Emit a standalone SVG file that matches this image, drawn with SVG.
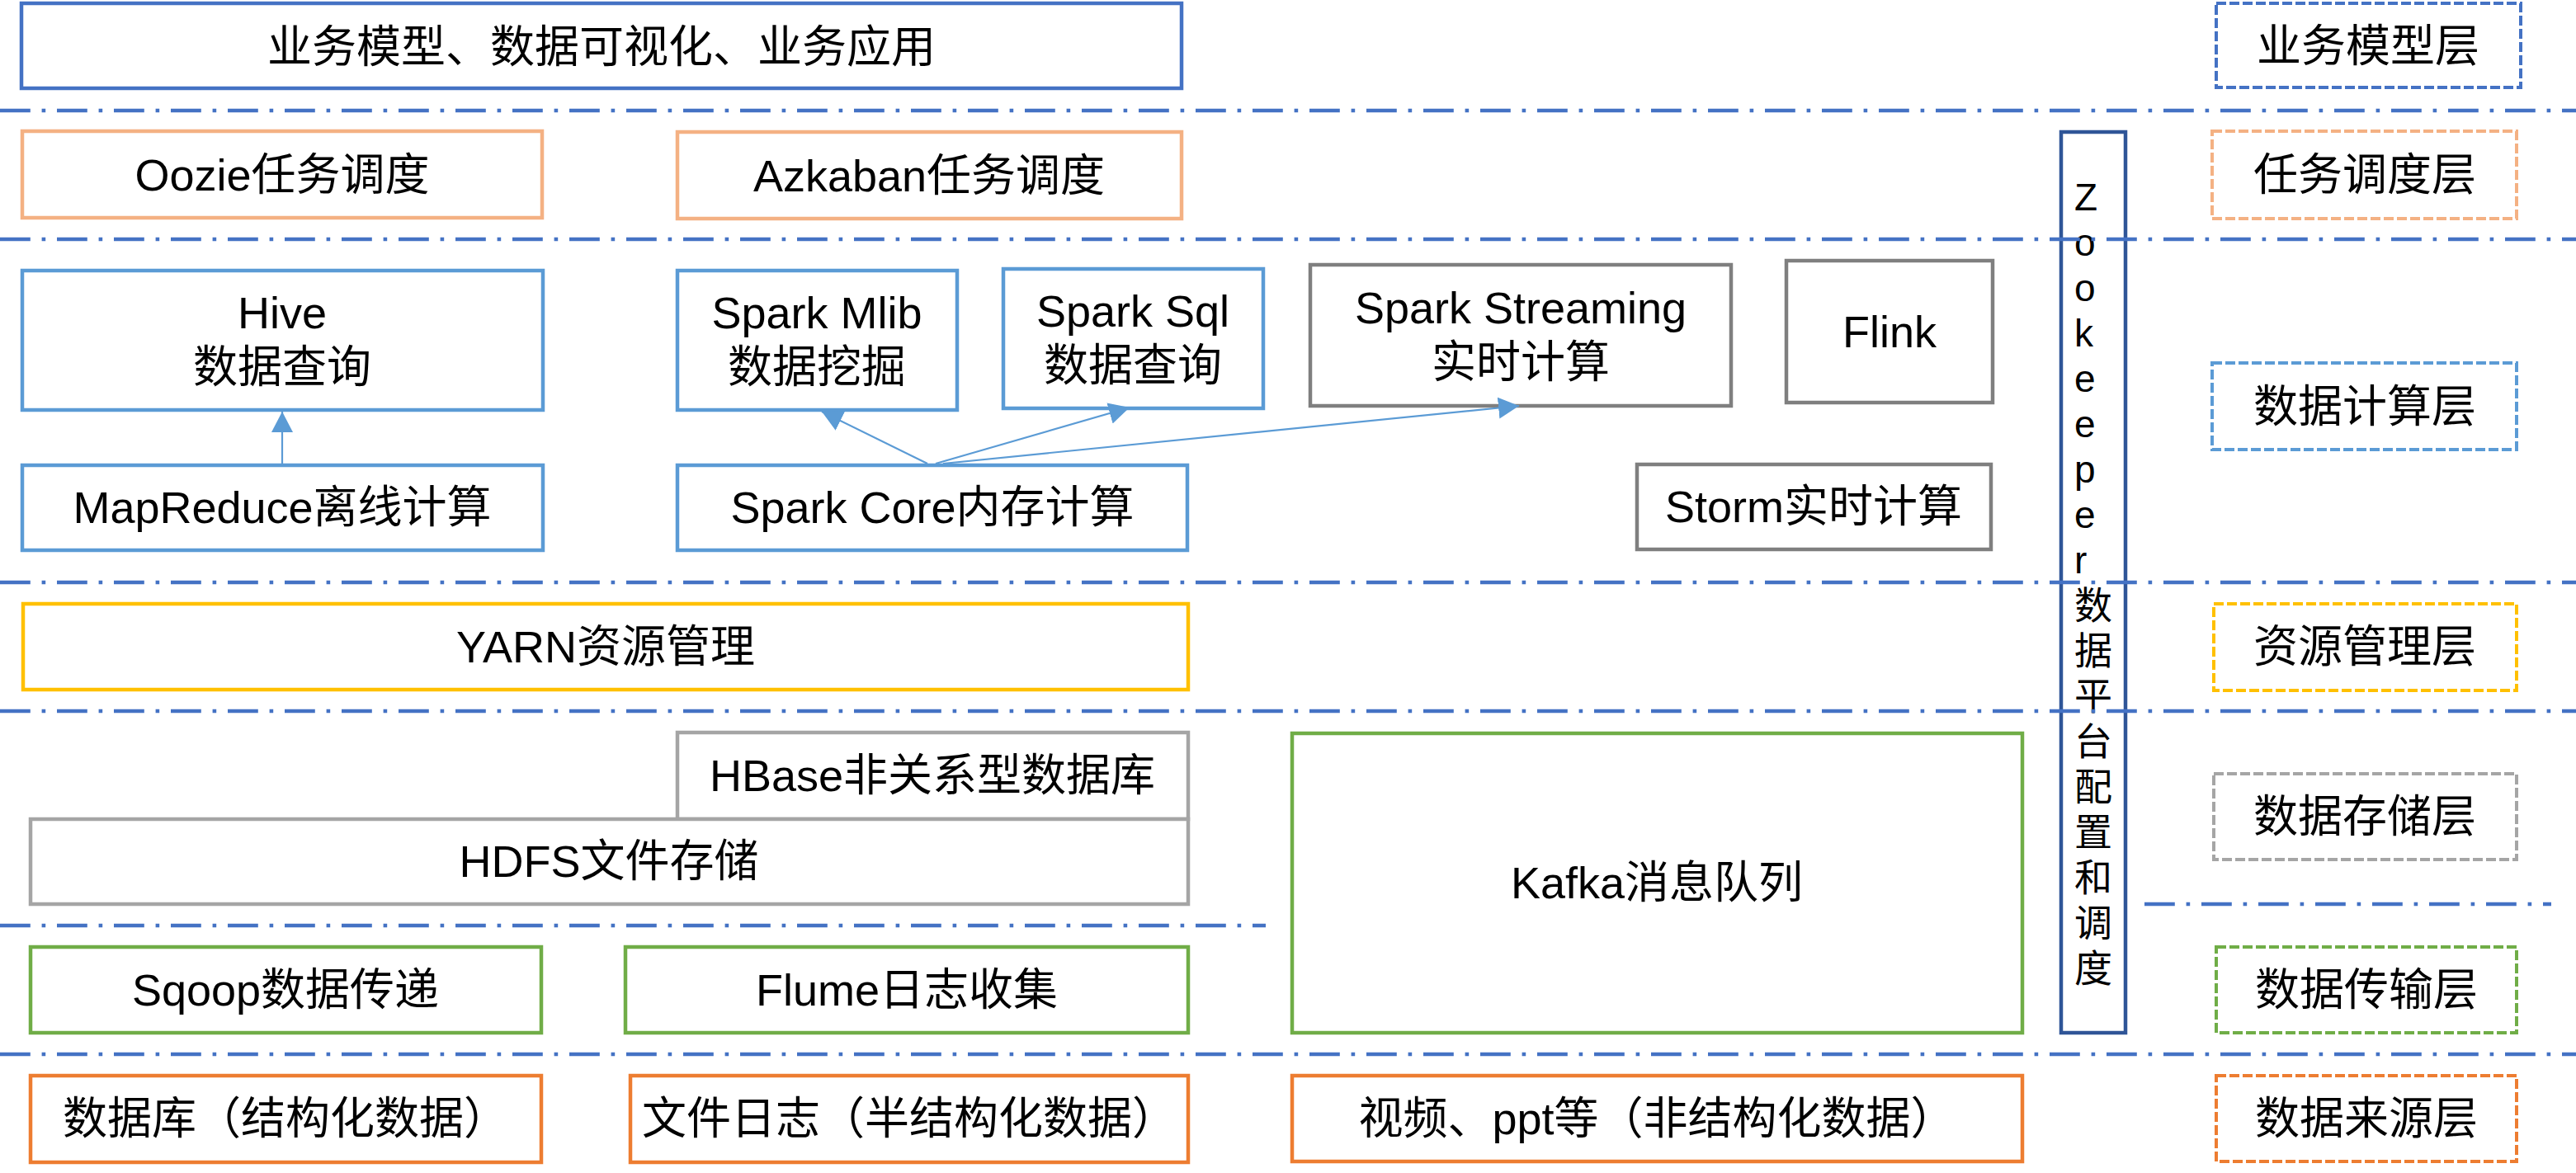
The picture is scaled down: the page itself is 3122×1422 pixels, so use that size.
<svg xmlns="http://www.w3.org/2000/svg" width="3122" height="1422" viewBox="0 0 3122 1422">
<style>
text{font-family:"Liberation Sans","Noto Sans CJK SC",sans-serif;font-size:54px;fill:#000;text-anchor:middle}
.box{fill:#fff;stroke-width:4.5}
.b1{stroke:#4472C4}.or{stroke:#F4B183}.lb{stroke:#5B9BD5}.gr{stroke:#7F7F7F}
.ye{stroke:#FFC000}.sg{stroke:#A5A5A5}.gn{stroke:#70AD47}.og{stroke:#ED7D31}
.lab{fill:#fff;stroke-width:4;stroke-dasharray:12 4}
.sep{stroke:#4472C4;stroke-width:4.6;stroke-dasharray:36.8 13.8 4.6 13.8;fill:none}
.arr{stroke:#5B9BD5;stroke-width:2.2;fill:none;marker-end:url(#ah)}
.zk{font-size:46px;text-anchor:start}
</style>
<defs>
<marker id="ah" markerUnits="userSpaceOnUse" markerWidth="28" markerHeight="28" refX="25" refY="13" orient="auto">
<path d="M0,0 L25,13 L0,26 z" fill="#5B9BD5"/>
</marker>
</defs>
<rect width="3122" height="1422" fill="#fff"/>

<g id="biz"><rect class="box b1" x="26" y="4" width="1406" height="103"/><text x="729" y="76">业务模型、数据可视化、业务应用</text></g>
<g id="oozie"><rect class="box or" x="27" y="159" width="630" height="105"/><text x="342" y="231">Oozie任务调度</text></g>
<g id="azkaban"><rect class="box or" x="821" y="160" width="611" height="105"/><text x="1126" y="232">Azkaban任务调度</text></g>

<g id="hive"><rect class="box lb" x="27" y="328" width="631" height="169"/><text x="342" y="398">Hive</text><text x="342" y="464">数据查询</text></g>
<g id="mapreduce"><rect class="box lb" x="27" y="564" width="631" height="103"/><text x="342" y="634">MapReduce离线计算</text></g>
<g id="mlib"><rect class="box lb" x="821" y="328" width="339" height="169"/><text x="990" y="398">Spark Mlib</text><text x="990" y="464">数据挖掘</text></g>
<g id="sql"><rect class="box lb" x="1216" y="326" width="315" height="169"/><text x="1373" y="396">Spark Sql</text><text x="1373" y="462">数据查询</text></g>
<g id="streaming"><rect class="box gr" x="1588" y="321" width="510" height="171"/><text x="1843" y="392">Spark Streaming</text><text x="1843" y="458">实时计算</text></g>
<g id="flink"><rect class="box gr" x="2165" y="316" width="250" height="172"/><text x="2290" y="421">Flink</text></g>
<g id="core"><rect class="box lb" x="821" y="564" width="618" height="103"/><text x="1130" y="634">Spark Core内存计算</text></g>
<g id="storm"><rect class="box gr" x="1984" y="563" width="429" height="103"/><text x="2198" y="633">Storm实时计算</text></g>

<g id="yarn"><rect class="box ye" x="28" y="732" width="1412" height="104"/><text x="734" y="803">YARN资源管理</text></g>
<g id="hbase"><rect class="box sg" x="821" y="888" width="619" height="105"/><text x="1130" y="959">HBase非关系型数据库</text></g>
<g id="hdfs"><rect class="box sg" x="37" y="993" width="1403" height="103"/><text x="738" y="1063">HDFS文件存储</text></g>
<g id="kafka"><rect class="box gn" x="1566" y="889" width="885" height="363"/><text x="2008" y="1089">Kafka消息队列</text></g>
<g id="sqoop"><rect class="box gn" x="37" y="1148" width="619" height="104"/><text x="346" y="1219">Sqoop数据传递</text></g>
<g id="flume"><rect class="box gn" x="758" y="1148" width="682" height="104"/><text x="1099" y="1219">Flume日志收集</text></g>
<g id="db"><rect class="box og" x="37" y="1304" width="619" height="105"/><text x="346" y="1375">数据库（结构化数据）</text></g>
<g id="filelog"><rect class="box og" x="764" y="1304" width="676" height="105"/><text x="1102" y="1375">文件日志（半结构化数据）</text></g>
<g id="video"><rect class="box og" x="1566" y="1304" width="885" height="104"/><text x="2008" y="1375">视频、ppt等（非结构化数据）</text></g>

<g id="zookeeper">
<rect x="2498" y="160" width="78" height="1092" fill="none" stroke="#2F5597" stroke-width="4.5"/>
<text class="zk" x="2514" y="255">Z</text><text class="zk" x="2514" y="310">o</text><text class="zk" x="2514" y="365">o</text>
<text class="zk" x="2514" y="420">k</text><text class="zk" x="2514" y="475">e</text><text class="zk" x="2514" y="530">e</text>
<text class="zk" x="2514" y="585">p</text><text class="zk" x="2514" y="640">e</text><text class="zk" x="2514" y="695">r</text>
<text class="zk" x="2514" y="750">数</text><text class="zk" x="2514" y="805">据</text><text class="zk" x="2514" y="860">平</text>
<text class="zk" x="2514" y="915">台</text><text class="zk" x="2514" y="970">配</text><text class="zk" x="2514" y="1025">置</text>
<text class="zk" x="2514" y="1080">和</text><text class="zk" x="2514" y="1135">调</text><text class="zk" x="2514" y="1190">度</text>
</g>

<g id="layer-biz"><rect class="lab b1" x="2686" y="4" width="369" height="102"/><text x="2870" y="75">业务模型层</text></g>
<g id="layer-sched"><rect class="lab or" x="2681" y="159" width="369" height="106"/><text x="2866" y="231">任务调度层</text></g>
<g id="layer-compute"><rect class="lab lb" x="2681" y="440" width="369" height="105"/><text x="2866" y="512">数据计算层</text></g>
<g id="layer-res"><rect class="lab ye" x="2683" y="732" width="367" height="105"/><text x="2866" y="803">资源管理层</text></g>
<g id="layer-store"><rect class="lab sg" x="2683" y="938" width="367" height="104"/><text x="2866" y="1009">数据存储层</text></g>
<g id="layer-trans"><rect class="lab gn" x="2686" y="1148" width="364" height="104"/><text x="2868" y="1219">数据传输层</text></g>
<g id="layer-src"><rect class="lab og" x="2686" y="1304" width="364" height="104"/><text x="2868" y="1375">数据来源层</text></g>

<g id="separators">
<line class="sep" x1="0" y1="134" x2="3122" y2="134"/>
<line class="sep" x1="0" y1="290" x2="3122" y2="290"/>
<line class="sep" x1="0" y1="706" x2="3122" y2="706"/>
<line class="sep" x1="0" y1="862" x2="3122" y2="862"/>
<line class="sep" x1="0" y1="1122" x2="1534" y2="1122"/>
<line class="sep" x1="2599" y1="1096" x2="3092" y2="1096"/>
<line class="sep" x1="0" y1="1278" x2="3122" y2="1278"/>
</g>

<g id="connectors">
<line class="arr" x1="342" y1="562" x2="342" y2="499"/>
<line class="arr" x1="1124" y1="562" x2="996" y2="499"/>
<line class="arr" x1="1134" y1="562" x2="1369" y2="494"/>
<line class="arr" x1="1143" y1="562" x2="1841" y2="492"/>
</g>
</svg>
